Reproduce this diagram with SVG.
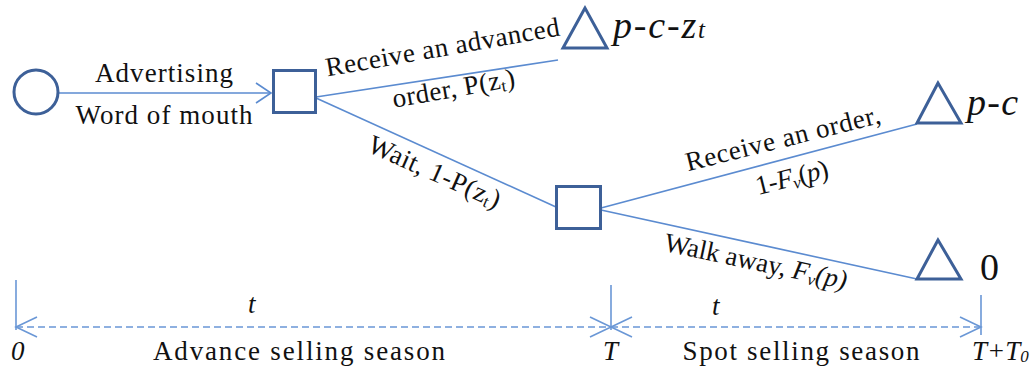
<svg xmlns="http://www.w3.org/2000/svg" width="1031" height="376" viewBox="0 0 1031 376">
<style>
.node{fill:#fff;stroke:#3D6098;stroke-width:3}
.edge{fill:none;stroke:#5B8BD0;stroke-width:1.6}
.dash{fill:none;stroke:#6A97D6;stroke-width:1.6;stroke-dasharray:7 4}
.tick{fill:none;stroke:#6A97D6;stroke-width:1.6}
text{font-family:'Liberation Serif','Times New Roman','DejaVu Serif',serif;font-size:27px;fill:#111}
.it{font-style:italic}
.sub{font-size:17px}
.big{font-size:38px}
</style>
<defs>
<marker id="chev" markerUnits="userSpaceOnUse" viewBox="-22 -11 23 22" refX="0" refY="0" markerWidth="23" markerHeight="22" orient="auto-start-reverse" overflow="visible">
<path d="M-21,-10 L0,0 L-21,10" fill="none" stroke="#6A97D6" stroke-width="1.6" stroke-dasharray="none"/>
</marker>
<marker id="arr" markerUnits="userSpaceOnUse" viewBox="-16 -11 17 22" refX="0" refY="0" markerWidth="17" markerHeight="22" orient="auto" overflow="visible">
<path d="M-15,-10 L0,0 L-15,10" fill="none" stroke="#5B8BD0" stroke-width="1.6"/>
</marker>
</defs>
<rect width="1031" height="376" fill="#fff"/>

<g id="connectors">
<line class="edge" x1="58" y1="93" x2="271" y2="93" marker-end="url(#arr)"/>
<line class="edge" x1="316" y1="97" x2="558" y2="60"/>
<line class="edge" x1="316" y1="98" x2="556" y2="207"/>
<line class="edge" x1="601" y1="208" x2="917" y2="124"/>
<line class="edge" x1="601" y1="210" x2="917" y2="279"/>
</g>

<g id="start"><circle class="node" cx="36" cy="92" r="22"/></g>
<g id="decision1"><rect class="node" x="273.5" y="70.5" width="42" height="42"/></g>
<g id="decision2"><rect class="node" x="556.5" y="186.5" width="44" height="42"/></g>
<g id="end1"><polygon class="node" points="585,8 563,48 607,48"/>
<text class="it big" x="613" y="38" textLength="92" lengthAdjust="spacing">p-c-z<tspan font-size="25">t</tspan></text></g>
<g id="end2"><polygon class="node" points="938,83 917,123 961,123"/>
<text class="it big" x="967" y="115" textLength="51" lengthAdjust="spacing">p-c</text></g>
<g id="end3"><polygon class="node" points="938,240 917,279 961,279"/>
<text class="big" x="980" y="280">0</text></g>

<g id="edge-labels">
<text x="164" y="82" text-anchor="middle" textLength="138" lengthAdjust="spacing">Advertising</text>
<text x="164" y="124" text-anchor="middle" textLength="177" lengthAdjust="spacing">Word of mouth</text>
<text transform="translate(444,56) rotate(-10)" text-anchor="middle" textLength="237" lengthAdjust="spacing">Receive an advanced</text>
<text transform="translate(455,97) rotate(-10)" text-anchor="middle" textLength="124" lengthAdjust="spacing">order, P(z<tspan class="sub" dy="3">t</tspan><tspan dy="-3">)</tspan></text>
<text transform="translate(431,180) rotate(24)" text-anchor="middle" textLength="142" lengthAdjust="spacing">Wait, 1-P(z<tspan class="sub" dy="3">t</tspan><tspan dy="-3">)</tspan></text>
<text transform="translate(785,147) rotate(-14)" text-anchor="middle" textLength="200" lengthAdjust="spacing">Receive an order,</text>
<text transform="translate(794,186) rotate(-14)" text-anchor="middle" textLength="74" lengthAdjust="spacing">1-<tspan class="it">F</tspan><tspan class="it sub" dy="3">v</tspan><tspan dy="-3">(</tspan><tspan class="it">p</tspan>)</text>
<text transform="translate(754,270) rotate(12)" text-anchor="middle" textLength="186" lengthAdjust="spacing">Walk away, <tspan class="it">F</tspan><tspan class="it sub" dy="3">v</tspan><tspan class="it" dy="-3">(p)</tspan></text>
</g>

<g id="timeline">
<line class="tick" x1="16" y1="280" x2="16" y2="330"/>
<line class="tick" x1="611" y1="285" x2="611" y2="330"/>
<line class="tick" x1="981" y1="295" x2="981" y2="335"/>
<line class="dash" x1="16" y1="327" x2="611" y2="327" marker-start="url(#chev)" marker-end="url(#chev)"/>
<line class="dash" x1="611" y1="327" x2="981" y2="327" marker-start="url(#chev)" marker-end="url(#chev)"/>
<text class="it" x="248" y="313">t</text>
<text class="it" x="712" y="315">t</text>
<text class="it" x="11" y="360">0</text>
<text x="299" y="360" text-anchor="middle" textLength="292" lengthAdjust="spacing">Advance selling season</text>
<text class="it" x="603" y="360">T</text>
<text x="801" y="360" text-anchor="middle" textLength="237" lengthAdjust="spacing">Spot selling season</text>
<text class="it" x="972" y="360">T+T<tspan class="sub" dy="2">0</tspan></text>
</g>
</svg>
